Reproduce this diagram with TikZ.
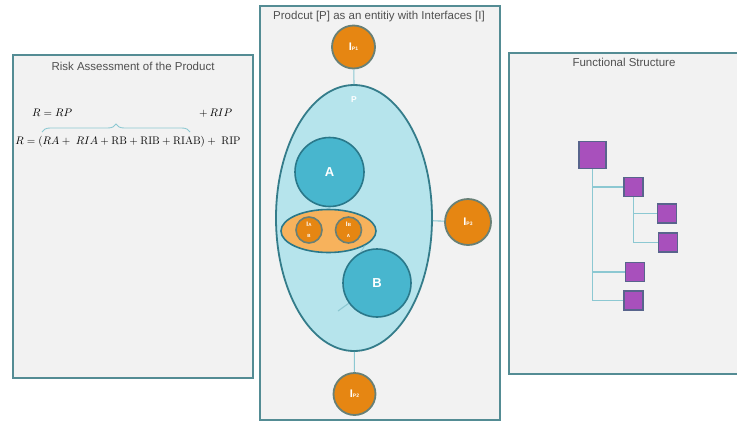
\documentclass[tikz,border=0pt]{standalone}
\usepackage{fontspec}
\setsansfont{Liberation Sans}
\usetikzlibrary{shapes.geometric,decorations.pathreplacing}
\definecolor{panelfill}{RGB}{242,242,242}
\definecolor{paneldraw}{RGB}{84,140,148}
\definecolor{titlecol}{RGB}{80,80,80}
\definecolor{orangefill}{RGB}{230,134,18}
\definecolor{orangedraw}{RGB}{104,128,118}
\definecolor{lightorange}{RGB}{247,178,92}
\definecolor{pfill}{RGB}{182,228,236}
\definecolor{pdraw}{RGB}{52,124,138}
\definecolor{abfill}{RGB}{72,182,206}
\definecolor{abdraw}{RGB}{42,120,138}
\definecolor{linecol}{RGB}{140,200,210}
\definecolor{boxfill}{RGB}{168,80,188}
\definecolor{boxdraw}{RGB}{88,100,140}
\tikzset{
  panel/.style={draw=paneldraw, fill=panelfill, line width=2pt, anchor=north west, inner sep=0pt},
  ptitle/.style={text=titlecol, font=\sffamily\fontsize{11.5}{12}\selectfont, inner sep=0pt},
  formula/.style={text=black, font=\fontsize{11}{12}\selectfont, inner sep=0pt},
  iface/.style={circle, draw=orangedraw, fill=orangefill, line width=1.8pt, inner sep=0pt, text=white, font=\sffamily\bfseries},
  smalliface/.style={circle, draw=orangedraw, fill=orangefill, line width=1.6pt, inner sep=0pt, minimum size=26pt, text=white, font=\sffamily\bfseries, align=center},
  comp/.style={circle, draw=abdraw, fill=abfill, line width=1.6pt, inner sep=0pt, minimum size=68pt, text=white, font=\sffamily\bfseries\fontsize{13}{13}\selectfont},
  link/.style={draw=linecol, line width=1.1pt},
  fbox/.style={rectangle, draw=boxdraw, fill=boxfill, line width=1.4pt, inner sep=0pt, minimum size=19pt},
  treeline/.style={draw=linecol, line width=1.1pt}
}
\newcommand{\ilab}[1]{{\fontsize{11}{11}\selectfont I}{\fontsize{5}{5}\selectfont #1}}
\begin{document}
\begin{tikzpicture}[x=1pt,y=-1pt]
\clip (0,0) rectangle (737,421);
\fill[white] (0,0) rectangle (737,421);

% panels
\node[panel, minimum width=240pt, minimum height=323pt] (leftp) at (12,54) {};
\node[panel, minimum width=240pt, minimum height=414pt] (midp) at (259,5) {};
\node[panel, minimum width=252pt, minimum height=321pt] (rightp) at (508,52) {};

% titles
\node[ptitle] (lt) at (133,66) {Risk Assessment of the Product};
\node[ptitle] (mt) at (379,17) {Prodcut [P] as an entitiy with Interfaces [I]};
\node[ptitle] (rt) at (624,62) {Functional Structure};

% formulas
\node[formula, anchor=west] (f1a) at (32,113) {$R = RP$};
\node[formula, anchor=west] (f1b) at (199,113) {$+\,RIP$};
\node[formula] (f2) at (128,142) {$R = (RA+\;RIA+\mathrm{RB}+\mathrm{RIB}+\mathrm{RIAB})+\;\mathrm{RIP}$};
\coordinate (bl) at (42,132);
\coordinate (br) at (190,132);
\draw[draw=linecol, line width=0.9pt, decorate, decoration={brace, amplitude=8pt}] (bl) -- (br);

% middle: product with interfaces
\node[ellipse, draw=pdraw, fill=pfill, line width=1.8pt, minimum width=156pt, minimum height=266pt, inner sep=0pt] (P) at (354,218) {};
\node[text=white, font=\sffamily\bfseries\fontsize{8.5}{8.5}\selectfont, inner sep=0pt] (plab) at (354,100) {P};
\node[iface, minimum size=43pt] (ip1) at (353.5,47) {\ilab{P1}};
\node[iface, minimum size=42pt] (ip2) at (354.5,394) {\ilab{P2}};
\node[iface, minimum size=46pt] (ip3) at (468,222) {\ilab{P3}};
\draw[link] (ip1) -- (plab.north |- P.north);
\draw[link] (ip2) -- (P);
\draw[link] (ip3) -- (P);

\node[comp, minimum size=69pt] (A) at (329.5,172) {A};
\coordinate (bstub) at (338,311);
\draw[link] (bstub) -- (377,283);
\node[comp] (B) at (377,283) {B};
\node[ellipse, draw=abdraw, fill=lightorange, line width=1.6pt, minimum width=95pt, minimum height=43pt, inner sep=0pt] (oe) at (328.5,231) {};
\draw[link, line width=0.8pt] (oe.-22) -- (B.118);
\node[smalliface] (iab) at (309,230) {{\fontsize{6.5}{6}\selectfont I}{\fontsize{4.5}{4}\selectfont A}\\[-1pt]{\fontsize{4.5}{4}\selectfont B}};
\node[smalliface] (iba) at (348.5,230) {{\fontsize{6.5}{6}\selectfont I}{\fontsize{4.5}{4}\selectfont B}\\[-1pt]{\fontsize{4.5}{4}\selectfont A}};

% right: functional structure
\node[fbox, minimum size=27pt] (b0) at (592.5,155) {};
\node[fbox] (b1) at (633.5,187) {};
\node[fbox] (b2) at (667,213.5) {};
\node[fbox] (b3) at (668,242.5) {};
\node[fbox] (b4) at (635,272) {};
\node[fbox] (b5) at (633.5,300.5) {};
\draw[treeline] (b0.south) |- (b1.west);
\draw[treeline] (b0.south) |- (b4.west);
\draw[treeline] (b0.south) |- (b5.west);
\draw[treeline] (b1.south) |- (b2.west);
\draw[treeline] (b1.south) |- (b3.west);
\end{tikzpicture}
\end{document}
